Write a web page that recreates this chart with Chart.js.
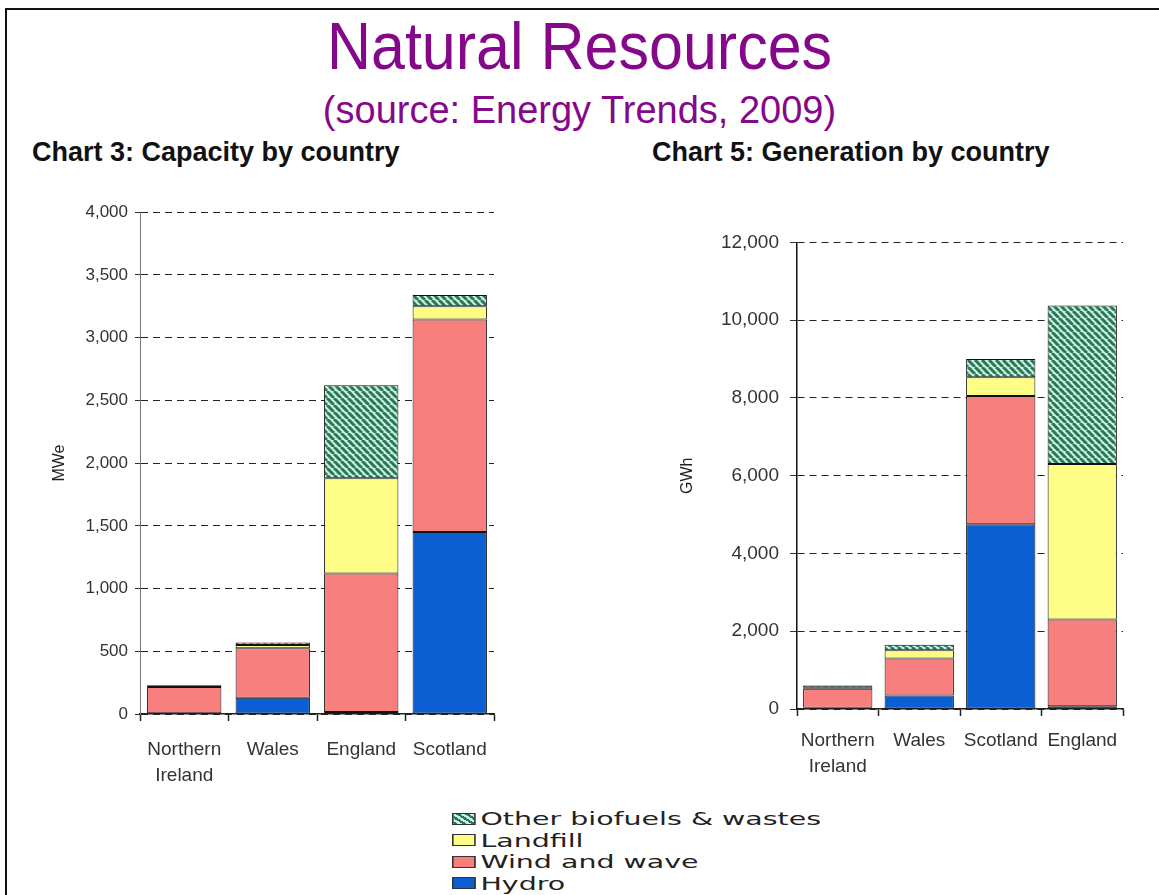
<!DOCTYPE html>
<html>
<head>
<meta charset="utf-8">
<script src="https://cdn.jsdelivr.net/npm/chart.js@4/dist/chart.umd.min.js"></script>
<style>
  body { margin: 0; width: 1159px; height: 895px; background: #fff; position: relative; overflow: hidden;
         font-family: "Liberation Sans", Arial, sans-serif; }
  #frame { position: absolute; left: 5px; top: 8px; width: 1200px; height: 1000px;
           border-left: 2px solid #111; border-top: 2px solid #111; }
  .title { position: absolute; left: 0; width: 1159px; text-align: center; color: #86088a; margin: 0; font-weight: normal; line-height: 1; }
  #t1 { top: 13px; font-size: 61px; transform: scaleY(1.1); transform-origin: center top; }
  #t2 { top: 91px; font-size: 38px; }
  .head { position: absolute; font-weight: bold; font-size: 27px; color: #111; line-height: 1; }
  #h1 { left: 32px; top: 139px; }
  #h2 { left: 652px; top: 139px; }
  canvas { position: absolute; }
  #cap { left: 40px; top: 195px; }
  #gen { left: 660px; top: 220px; }
  #legend { position: absolute; left: 452px; top: 808px; transform: scaleX(1.58); transform-origin: left top;
            font-family: "DejaVu Sans", sans-serif; font-size: 18px; color: #222; }
  .row { display: flex; align-items: center; height: 21.5px; }
  .sw { width: 13px; height: 10px; border: 1px solid #333; margin-right: 3px; }
</style>
</head>
<body>
<div id="frame"></div>
<div class="title" id="t1">Natural Resources</div>
<div class="title" id="t2">(source: Energy Trends, 2009)</div>
<div class="head" id="h1">Chart 3: Capacity by country</div>
<div class="head" id="h2">Chart 5: Generation by country</div>
<canvas id="cap" width="475" height="600"></canvas>
<canvas id="gen" width="480" height="575"></canvas>
<div id="legend"></div>
<script>
// Chart 3: capacity (MWe)
const capCountries = [["Northern", "Ireland"], "Wales", "England", "Scotland"];
const capHydro = [5, 130, 15, 1450];
const capWind = [210, 395, 1105, 1695];
const capLandfill = [8, 25, 760, 105];
const capOther = [7, 20, 740, 90];
const capTicks = { max: 4000, step: 500 };

// Chart 5: generation (GWh)
const genCountries = [["Northern", "Ireland"], "Wales", "Scotland", "England"];
const genHydro = [30, 350, 4750, 70];
const genWind = [490, 950, 3300, 2230];
const genLandfill = [25, 210, 480, 4000];
const genOther = [60, 140, 470, 4080];
const genTicks = { max: 12000, step: 2000 };

const seriesNames = ["Hydro", "Wind and wave", "Landfill", "Other biofuels & wastes"];

function hatch() {
  let c = document.createElement("canvas");
  c.width = 7; c.height = 7;
  let g = c.getContext("2d");
  g.fillStyle = "#c9f1e2";
  g.fillRect(0, 0, 7, 7);
  g.strokeStyle = "#2c7756";
  g.lineWidth = 3;
  for (let k of [-7, 0, 7]) {
    g.beginPath();
    g.moveTo(k, 0);
    g.lineTo(k + 7, 7);
    g.stroke();
  }
  return g.createPattern(c, "repeat");
}

const colors = ["#0b5fd3", "#f7807e", "#fdfd86", hatch()];

function charter(id, labels, series, ticks, yTitle, o) {
  let datasets = [];
  for (let i = 0; i < series.length; i++) {
    datasets.push({
      label: seriesNames[i],
      data: series[i],
      backgroundColor: colors[i],
      borderColor: "#111",
      borderWidth: 1,
      borderSkipped: false,
      barPercentage: o.bar,
      categoryPercentage: 1,
    });
  }
  new Chart(document.getElementById(id), {
    type: "bar",
    data: { labels: labels, datasets: datasets },
    options: {
      responsive: false,
      animation: false,
      layout: { padding: { top: o.top, right: o.right, left: 0, bottom: 0 } },
      plugins: { legend: { display: false }, tooltip: { enabled: false } },
      scales: {
        x: {
          stacked: true,
          afterFit: (s) => { s.height = o.xh; },
          grid: { drawOnChartArea: false, drawTicks: true, tickLength: 7, tickColor: "#222", tickWidth: 1.5 },
          border: { display: true, color: "#222", width: 1.5 },
          ticks: {
            autoSkip: false, maxRotation: 0, minRotation: 0, padding: o.xpad,
            color: "#333", font: { family: "Liberation Sans", size: 19, lineHeight: 1.35 },
          },
        },
        y: {
          stacked: true,
          min: 0,
          max: ticks.max,
          afterFit: (s) => { s.width = o.yw; },
          grid: { color: "#222", lineWidth: 1, tickLength: o.tl, tickColor: "#333" },
          border: { display: true, color: o.axis, width: o.aw, dash: [7, 5] },
          ticks: {
            stepSize: ticks.step, padding: o.ypad, color: "#333",
            font: { family: "Liberation Sans", size: o.fs },
            callback: (v) => v.toLocaleString("en-US"),
          },
          title: {
            display: true, text: yTitle, color: "#222", padding: { top: o.tp, bottom: 0 },
            font: { family: "Liberation Sans", size: 16 },
          },
        },
      },
    },
  });
}

charter("cap", capCountries, [capHydro, capWind, capLandfill, capOther], capTicks, "MWe",
  { top: 16, right: 21, xh: 81, yw: 100, bar: 0.84, tl: 5, ypad: 7, fs: 17, tp: 10, xpad: 16, axis: "#777", aw: 1 });
charter("gen", genCountries, [genHydro, genWind, genLandfill, genOther], genTicks, "GWh",
  { top: 19, right: 17, xh: 86, yw: 137, bar: 0.85, tl: 7, ypad: 11, fs: 19, tp: 18, xpad: 12, axis: "#111", aw: 1.5 });

// shared legend, top item first
let legend = document.getElementById("legend");
const swatchCss = [
  "background:#0b5fd3",
  "background:#f7807e",
  "background:#fdfd86",
  "background:repeating-linear-gradient(45deg,#2c7756 0 2px,#c9f1e2 2px 4px)",
];
for (let i = seriesNames.length - 1; i >= 0; i--) {
  let row = document.createElement("div");
  row.className = "row";
  let sw = document.createElement("span");
  sw.className = "sw";
  sw.style.cssText = swatchCss[i];
  let txt = document.createElement("span");
  txt.textContent = seriesNames[i];
  row.appendChild(sw);
  row.appendChild(txt);
  legend.appendChild(row);
}
</script>
</body>
</html>
